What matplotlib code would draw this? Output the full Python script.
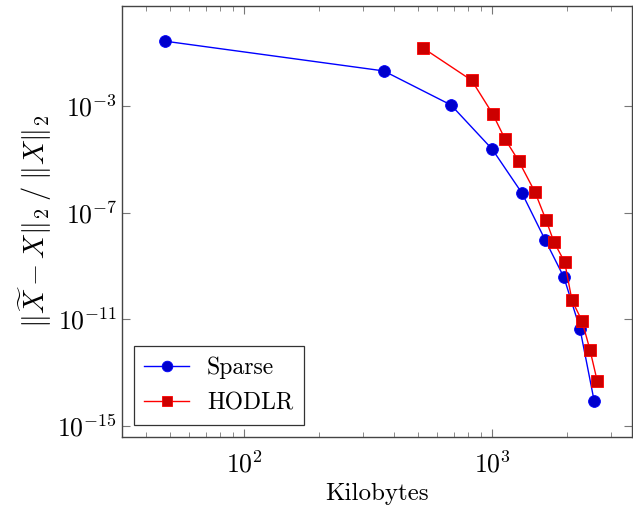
import matplotlib
matplotlib.use('Agg')
import matplotlib.pyplot as plt
from matplotlib.ticker import NullLocator, LogLocator

plt.rcParams['font.family'] = 'serif'
plt.rcParams['font.serif'] = ['cmr10']
plt.rcParams['mathtext.fontset'] = 'cm'
plt.rcParams['axes.formatter.use_mathtext'] = True

# Sparse series (kilobytes, relative error)
sparse_kb = [47.9, 365, 682, 1000, 1318, 1631, 1946, 2258, 2577]
sparse_err = [2.75e-1, 2.1e-2, 1.1e-3, 2.4e-5, 5.4e-7, 9.8e-9, 3.7e-10, 4.4e-12, 8.3e-15]

# HODLR series
hodlr_kb = [527, 826, 1004, 1128, 1278, 1486, 1646, 1774, 1959, 2096, 2300, 2477, 2651]
hodlr_err = [1.5e-1, 9.3e-3, 5.1e-4, 5.6e-5, 8.7e-6, 6.0e-7, 5.4e-8, 7.8e-9, 1.4e-9,
             5.1e-11, 8.7e-12, 7.1e-13, 4.7e-14]

xticks = [1e2, 1e3]
yticks = [1e-3, 1e-7, 1e-11, 1e-15]

fig = plt.figure(figsize=(6.33, 5.14), dpi=100)
ax = fig.add_axes([0.1927, 0.1498, 0.8057, 0.8385])

ax.plot(sparse_kb, sparse_err, color=(0, 0, 1), lw=1.0, marker='o', ms=8.5,
        mfc=(0, 0, 0.8), mec=(0, 0, 1), mew=0.6, label='Sparse')
ax.plot(hodlr_kb, hodlr_err, color=(1, 0, 0), lw=1.0, marker='s', ms=8,
        mfc=(0.8, 0, 0), mec=(1, 0, 0), mew=0.6, label='HODLR')

ax.set_xscale('log')
ax.set_yscale('log')
ax.set_xlim(32.1, 3660)
ax.set_ylim(10 ** -15.425, 10 ** 0.76)

ax.set_xticks(xticks)
ax.xaxis.set_minor_locator(LogLocator(base=10, subs=range(2, 10)))
ax.set_yticks(yticks)
ax.yaxis.set_minor_locator(NullLocator())

ax.tick_params(which='both', direction='in', top=True, right=True,
               color='#777777', labelsize=18.5)
ax.tick_params(which='major', length=6, width=0.8)
ax.tick_params(which='minor', length=3.5, width=0.6)
ax.tick_params(axis='x', pad=10)
for s in ax.spines.values():
    s.set_color('#444444')
    s.set_linewidth(1.0)

ax.set_xlabel('Kilobytes', fontsize=18)
ax.set_ylabel(r'$\|\widetilde{X} - X\|_2\;/\;\|X\|_2$', fontsize=20.5, labelpad=2)

leg = ax.legend(loc='lower left', fontsize=17, fancybox=False, framealpha=1,
                edgecolor='#333333', borderaxespad=0.5, handlelength=1.9,
                handletextpad=0.75, borderpad=0.45, labelspacing=0.55,
                markerscale=0.9)
leg.get_frame().set_linewidth(0.9)

fig.savefig('out.png', dpi=100)
